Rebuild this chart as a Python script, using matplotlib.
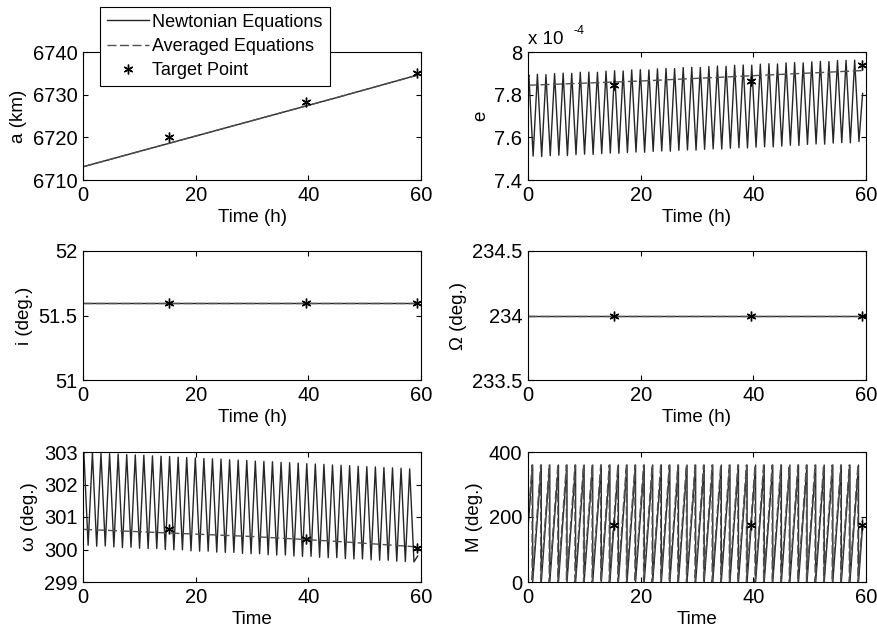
import numpy as np
import matplotlib.pyplot as plt

plt.rcParams['font.family'] = 'Liberation Sans'
plt.rcParams['lines.scale_dashes'] = False

# --- data (time in hours) ---
t_end = 59.4
target_t = [15.2, 39.5, 59.3]

a_t = [0, 15, 30, 45, t_end]
a_newton = [6713.1, 6718.5, 6723.9, 6729.3, 6734.6]
a_avg = [6713.1, 6718.5, 6723.9, 6729.3, 6734.6]
a_target = [6720.0, 6728.2, 6735.0]

# orbit-by-orbit extremes shared by e and omega
peak_t = [0.15, 1.67, 3.19, 4.72, 6.24, 7.76, 9.28, 10.80, 12.33, 13.85,
          15.37, 16.89, 18.41, 19.94, 21.46, 22.98, 24.50, 26.02, 27.55, 29.07,
          30.59, 32.11, 33.63, 35.16, 36.68, 38.20, 39.72, 41.24, 42.77, 44.29,
          45.81, 47.33, 48.85, 50.38, 51.90, 53.42, 54.94, 56.46, 57.99]
trough_t = [0.91, 2.43, 3.95, 5.48, 7.00, 8.52, 10.04, 11.56, 13.09, 14.61,
            16.13, 17.65, 19.17, 20.70, 22.22, 23.74, 25.26, 26.78, 28.31, 29.83,
            31.35, 32.87, 34.39, 35.92, 37.44, 38.96, 40.48, 42.00, 43.53, 45.05,
            46.57, 48.09, 49.61, 51.14, 52.66, 54.18, 55.70, 57.22, 58.75]

# eccentricity, x 1e-4
e_peak = [7.893, 7.896, 7.894, 7.899, 7.901, 7.900, 7.905, 7.906, 7.905, 7.910,
          7.912, 7.911, 7.916, 7.917, 7.916, 7.921, 7.923, 7.922, 7.927, 7.928,
          7.927, 7.932, 7.934, 7.933, 7.938, 7.939, 7.938, 7.943, 7.945, 7.944,
          7.949, 7.950, 7.949, 7.954, 7.956, 7.955, 7.960, 7.961, 7.962]
e_trough = [7.512, 7.510, 7.514, 7.516, 7.515, 7.519, 7.521, 7.520, 7.524, 7.526,
            7.525, 7.529, 7.531, 7.530, 7.534, 7.536, 7.535, 7.539, 7.541, 7.540,
            7.544, 7.546, 7.545, 7.549, 7.551, 7.550, 7.554, 7.556, 7.555, 7.559,
            7.563, 7.562, 7.567, 7.569, 7.568, 7.573, 7.575, 7.574, 7.580]
e_start, e_stop = 7.875, 7.806
e_avg_t = [0, 20, 40, t_end]
e_avg = [7.844, 7.864, 7.889, 7.913]
e_target = [7.843, 7.866, 7.940]

i_t = [0, t_end]
i_newton = [51.6, 51.6]
i_target = [51.6, 51.6, 51.6]

raan_t = [0, t_end]
raan_newton = [234.0, 234.0]
raan_target = [234.0, 234.0, 234.0]

w_peak = [302.99, 302.98, 302.96, 302.95, 302.94, 302.92, 302.91, 302.90, 302.88, 302.87,
          302.86, 302.84, 302.83, 302.82, 302.80, 302.79, 302.78, 302.76, 302.75, 302.74,
          302.72, 302.71, 302.70, 302.68, 302.67, 302.66, 302.64, 302.63, 302.62, 302.60,
          302.59, 302.58, 302.56, 302.55, 302.54, 302.52, 302.51, 302.50, 302.48]
w_trough = [300.13, 300.10, 300.11, 300.08, 300.06, 300.07, 300.04, 300.03, 300.03, 300.00,
            299.99, 299.99, 299.96, 299.95, 299.95, 299.92, 299.91, 299.91, 299.88, 299.87,
            299.87, 299.84, 299.83, 299.83, 299.80, 299.79, 299.79, 299.76, 299.75, 299.75,
            299.72, 299.71, 299.71, 299.68, 299.67, 299.67, 299.64, 299.63, 299.62]
w_start, w_stop = 302.90, 299.80
w_avg_t = [0, 15, 30, 45, t_end]
w_avg = [300.62, 300.51, 300.40, 300.25, 300.08]
w_target = [300.62, 300.32, 300.04]

# mean anomaly: times where M wraps from 360 back to 0
M_wrap_newton = [0.83, 2.36, 3.87, 5.41, 6.92, 8.45, 9.96, 11.49, 13.01, 14.54,
                 16.05, 17.58, 19.09, 20.63, 22.14, 23.67, 25.18, 26.71, 28.23, 29.76,
                 31.27, 32.80, 34.31, 35.85, 37.36, 38.89, 40.40, 41.93, 43.45, 44.98,
                 46.49, 48.02, 49.53, 51.07, 52.58, 54.11, 55.62, 57.15, 58.67]
M_wrap_avg = [0.73, 2.25, 3.77, 5.30, 6.82, 8.34, 9.86, 11.38, 12.91, 14.43,
              15.95, 17.47, 18.99, 20.52, 22.04, 23.56, 25.08, 26.60, 28.13, 29.65,
              31.17, 32.69, 34.21, 35.74, 37.26, 38.78, 40.30, 41.82, 43.35, 44.87,
              46.39, 47.91, 49.43, 50.96, 52.48, 54.00, 55.52, 57.04, 58.57]
M_newton_start, M_newton_stop = 164, 173
M_avg_start, M_avg_stop = 187, 196
M_target = [176, 176, 176]

NEWT = dict(color='#262626', lw=1.0, ls='-')
AVG = dict(color='#505050', lw=1.0, ls=(0, (6.5, 2.5)))
TARG = dict(ls='none', marker=(6, 2, 0), ms=7, mew=1.0, color='black')


def zigzag(v0, hi, lo, v1):
    t, v = [0.0], [v0]
    for pt, pv, tt, tv in zip(peak_t, hi, trough_t, lo):
        t += [pt, tt]
        v += [pv, tv]
    t.append(t_end)
    v.append(v1)
    return t, v


def sawtooth(m0, wraps, m1):
    t, m = [0.0], [m0]
    for w in wraps:
        t += [w, w]
        m += [360, 0]
    t.append(t_end)
    m.append(m1)
    return t, m


def style(ax, yticks, ylabel, xlabel='Time (h)'):
    ax.set_xlim(0, 60)
    ax.set_xticks([0, 20, 40, 60])
    ax.set_ylim(yticks[0], yticks[-1])
    ax.set_yticks(yticks)
    ax.tick_params(direction='in', top=True, right=True, length=3.5,
                   width=0.8, labelsize=14.5, pad=4)
    for s in ax.spines.values():
        s.set_linewidth(0.8)
    ax.set_xlabel(xlabel, fontsize=13.5, labelpad=3)
    ax.set_ylabel(ylabel, fontsize=13.5, labelpad=4)


fig = plt.figure(figsize=(8.77, 6.27), dpi=100)
W, H = 877, 627
cols = [83, 528]
rows = [(52, 180), (251, 380), (452, 582)]


def panel(r, c):
    x0 = cols[c]
    top, bot = rows[r]
    return fig.add_axes([x0 / W, 1 - bot / H, 338 / W, (bot - top) / H])


# a
ax = panel(0, 0)
ln1, = ax.plot(a_t, a_newton, **NEWT)
ln2, = ax.plot(a_t, a_avg, **AVG)
ln3, = ax.plot(target_t, a_target, **TARG)
style(ax, [6710, 6720, 6730, 6740], 'a (km)')
leg = ax.legend([ln1, ln2, ln3],
                ['Newtonian Equations', 'Averaged Equations', 'Target Point'],
                loc='upper left', bbox_to_anchor=(0.05, 1.355), borderaxespad=0,
                fontsize=13, handlelength=2.3, handletextpad=0.2,
                labelspacing=0.4, borderpad=0.4, fancybox=False, framealpha=1)
leg.get_frame().set_edgecolor('black')
leg.get_frame().set_linewidth(0.8)
leg.set_zorder(10)

# e
ax = panel(0, 1)
t, v = zigzag(e_start, e_peak, e_trough, e_stop)
ax.plot(t, v, **NEWT)
ax.plot(e_avg_t, e_avg, **AVG)
ax.plot(target_t, e_target, **TARG)
style(ax, [7.4, 7.6, 7.8, 8.0], 'e')
ax.set_yticklabels(['7.4', '7.6', '7.8', '8'])
ax.text(0.0, 1.03, 'x 10', transform=ax.transAxes, fontsize=13.5, va='bottom')
ax.text(0.135, 1.12, '-4', transform=ax.transAxes, fontsize=9, va='bottom')

# i
ax = panel(1, 0)
ax.plot(i_t, i_newton, **NEWT)
ax.plot(i_t, i_newton, **AVG)
ax.plot(target_t, i_target, **TARG)
style(ax, [51, 51.5, 52], 'i (deg.)')
ax.set_yticklabels(['51', '51.5', '52'])

# RAAN
ax = panel(1, 1)
ax.plot(raan_t, raan_newton, **NEWT)
ax.plot(raan_t, raan_newton, **AVG)
ax.plot(target_t, raan_target, **TARG)
style(ax, [233.5, 234, 234.5], '\u03a9 (deg.)')
ax.set_yticklabels(['233.5', '234', '234.5'])

# argument of perigee
ax = panel(2, 0)
t, v = zigzag(w_start, w_peak, w_trough, w_stop)
ax.plot(t, v, **NEWT)
ax.plot(w_avg_t, w_avg, **AVG)
ax.plot(target_t, w_target, **TARG)
style(ax, [299, 300, 301, 302, 303], '\u03c9 (deg.)', 'Time')

# mean anomaly
ax = panel(2, 1)
t, m = sawtooth(M_newton_start, M_wrap_newton, M_newton_stop)
ax.plot(t, m, **NEWT)
t, m = sawtooth(M_avg_start, M_wrap_avg, M_avg_stop)
ax.plot(t, m, **AVG)
ax.plot(target_t, M_target, **TARG)
style(ax, [0, 200, 400], 'M (deg.)', 'Time')

fig.savefig('out.png', dpi=100)
